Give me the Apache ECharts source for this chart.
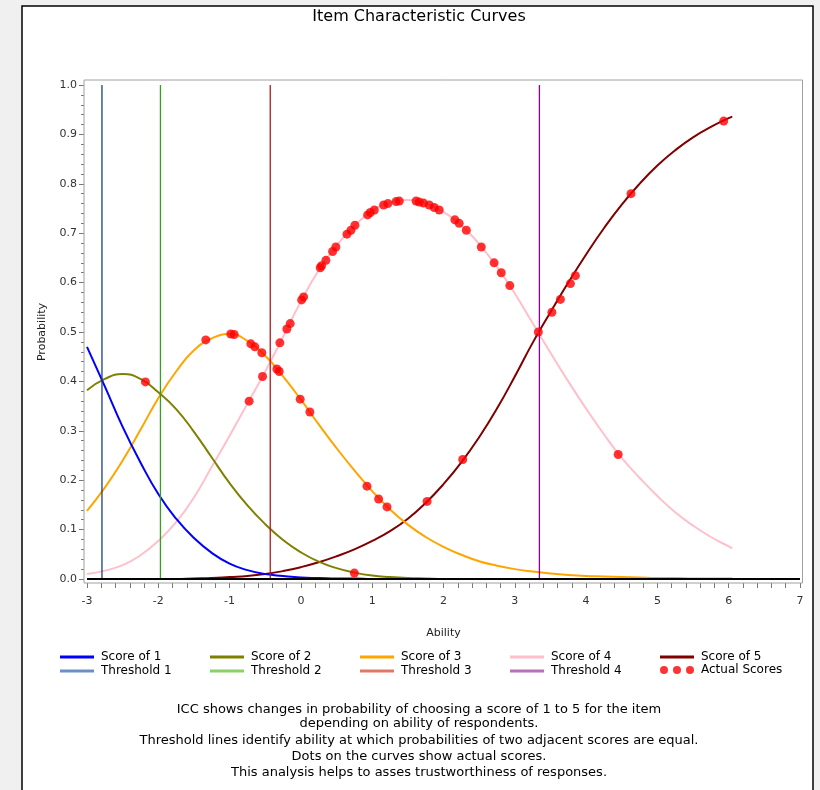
<!DOCTYPE html>
<html>
<head>
<meta charset="utf-8">
<title>Item Characteristic Curves</title>
<script src="https://cdn.jsdelivr.net/npm/echarts/dist/echarts.min.js"></script>
<style>
  html, body { margin: 0; padding: 0; background: #f0f0f0; }
  #chart { width: 820px; height: 790px; }
</style>
</head>
<body>
<div id="chart"></div>
<script>
// ability grid the curves were read at
const ability = [-3, -2.75, -2.5, -2.25, -2, -1.75, -1.5, -1.25, -1, -0.75, -0.5, -0.25,
  0, 0.25, 0.5, 0.75, 1, 1.25, 1.5, 1.75, 2, 2.25, 2.5, 2.75, 3, 3.25, 3.5, 3.75,
  4, 4.25, 4.5, 4.75, 5, 5.25, 5.5, 5.75, 6, 6.05];

const score1 = [0.47, 0.39, 0.308, 0.236, 0.172, 0.122, 0.083, 0.053, 0.031, 0.018, 0.010, 0.006,
  0.003, 0.002, 0.001, 0.001, 0, 0, 0, 0, 0, 0, 0, 0, 0, 0, 0, 0,
  0, 0, 0, 0, 0, 0, 0, 0, 0, 0];
const score2 = [0.382, 0.405, 0.415, 0.405, 0.378, 0.344, 0.298, 0.246, 0.194, 0.149, 0.111, 0.079,
  0.054, 0.035, 0.022, 0.013, 0.007, 0.004, 0.002, 0.001, 0, 0, 0, 0, 0, 0, 0, 0,
  0, 0, 0, 0, 0, 0, 0, 0, 0, 0];
const score3 = [0.138, 0.185, 0.24, 0.302, 0.366, 0.42, 0.463, 0.487, 0.496, 0.482, 0.452, 0.41,
  0.363, 0.313, 0.265, 0.22, 0.178, 0.141, 0.11, 0.085, 0.065, 0.049, 0.036, 0.027, 0.02, 0.015, 0.011, 0.008,
  0.006, 0.005, 0.004, 0.003, 0.002, 0.002, 0.001, 0.001, 0.001, 0.001];
const score4 = [0.01, 0.017, 0.028, 0.048, 0.077, 0.115, 0.165, 0.227, 0.29, 0.355, 0.42, 0.49,
  0.562, 0.625, 0.675, 0.715, 0.745, 0.762, 0.767, 0.76, 0.743, 0.716, 0.678, 0.632, 0.578, 0.518, 0.458, 0.40,
  0.345, 0.293, 0.245, 0.205, 0.168, 0.135, 0.108, 0.085, 0.066, 0.062];
const score5 = [0, 0, 0, 0, 0, 0, 0.001, 0.002, 0.004, 0.006, 0.010, 0.016,
  0.024, 0.034, 0.046, 0.06, 0.077, 0.097, 0.122, 0.154, 0.192, 0.236, 0.287, 0.345, 0.41, 0.478, 0.54, 0.60,
  0.657, 0.71, 0.758, 0.80, 0.837, 0.868, 0.894, 0.915, 0.933, 0.936];

// thresholds (ability where adjacent scores are equally likely)
const thresholds = [-2.79, -1.97, -0.43, 3.345];

// actual scores of respondents, placed on the curves
const dotAbility = [-2.18, 0.75,
  -1.334, -0.983, -0.936, -0.702, -0.646, -0.548, -0.337, -0.304, -0.01, 0.126, 0.927, 1.09, 1.208,
  -0.726, -0.538, -0.295, -0.197, -0.15, 0.01, 0.038, 0.271, 0.29, 0.351, 0.445, 0.49, 0.646, 0.702,
  0.758, 0.936, 0.974, 1.03, 1.16, 1.22, 1.334, 1.38, 1.615, 1.66, 1.72, 1.80, 1.87, 1.94, 2.16, 2.22,
  2.32, 2.53, 2.71, 2.81, 2.93, 4.45,
  1.77, 2.27, 3.33, 3.52, 3.64, 3.78, 3.85, 4.63, 5.93];
const dotProb = [0.399, 0.012,
  0.484, 0.496, 0.495, 0.476, 0.47, 0.458, 0.425, 0.42, 0.364, 0.338, 0.188, 0.162, 0.146,
  0.36, 0.41, 0.478, 0.506, 0.517, 0.565, 0.571, 0.63, 0.634, 0.645, 0.663, 0.672, 0.698, 0.706,
  0.716, 0.737, 0.742, 0.747, 0.757, 0.76, 0.764, 0.765, 0.765, 0.763, 0.761, 0.757, 0.752, 0.747, 0.727, 0.72,
  0.706, 0.672, 0.64, 0.62, 0.594, 0.252,
  0.157, 0.242, 0.50, 0.54, 0.566, 0.598, 0.614, 0.78, 0.927];

const scoreNames = ['Score of 1', 'Score of 2', 'Score of 3', 'Score of 4', 'Score of 5'];
const thresholdNames = ['Threshold 1', 'Threshold 2', 'Threshold 3', 'Threshold 4'];

const captionLines = [
  'ICC shows changes in probability of choosing a score of 1 to 5 for the item',
  'depending on ability of respondents.',
  'Threshold lines identify ability at which probabilities of two adjacent scores are equal.',
  'Dots on the curves show actual scores.',
  'This analysis helps to asses trustworthiness of responses.'
];

const FONT = 'DejaVu Sans';
const scoreColors = ['#0000ff', '#808000', '#ffa500', '#ffc0cb', '#800000'];
const thresholdColors = ['#1a3f80', '#33a020', '#b01c1c', '#8e008e'];
const thresholdLegendColors = ['#6d8fc4', '#8dd06a', '#e0786a', '#b873b8'];
const dotIcon = 'path://M4,0A4,4 0 1 1 4,8A4,4 0 1 1 4,0ZM17,0A4,4 0 1 1 17,8A4,4 0 1 1 17,0ZM30,0A4,4 0 1 1 30,8A4,4 0 1 1 30,0Z';

const scores = [score1, score2, score3, score4, score5];

const series = [];
scores.forEach((vals, i) => {
  series.push({
    name: scoreNames[i],
    type: 'line',
    smooth: 0.5,
    showSymbol: false,
    silent: true,
    z: 2 + (4 - i) * 0.01,
    color: scoreColors[i],
    lineStyle: { width: 2, color: scoreColors[i] },
    data: ability.map((a, k) => [a, vals[k]])
  });
});
thresholds.forEach((t, i) => {
  series.push({
    name: thresholdNames[i],
    type: 'line',
    showSymbol: false,
    silent: true,
    z: 3,
    color: thresholdColors[i],
    lineStyle: { width: 1.3, color: thresholdColors[i] },
    data: [[t, 0], [t, 1]]
  });
});
// black reference line at probability 0
series.push({
  name: 'base',
  type: 'line',
  data: [],
  silent: true,
  markLine: {
    silent: true,
    symbol: 'none',
    label: { show: false },
    lineStyle: { color: '#000', width: 2, type: 'solid' },
    data: [{ yAxis: 0 }]
  },
  z: 4
});
series.push({
  name: 'Actual Scores',
  type: 'scatter',
  symbolSize: 9,
  color: '#ff0000',
  itemStyle: { color: '#ff0000' },
  z: 5,
  data: dotAbility.map((a, k) => [a, dotProb[k]])
});

// legend: five columns, two rows
const colLeft = [60, 210, 360, 510, 660];
const legendText = { fontFamily: FONT, fontSize: 12, color: '#000', padding: [0, 0, 0, 2] };
const legends = [];
for (let i = 0; i < 5; i++) {
  legends.push({
    left: colLeft[i], top: 651, padding: 0, itemWidth: 34, itemHeight: 3, itemGap: 0,
    selectedMode: false, textStyle: legendText,
    data: [{ name: scoreNames[i], icon: 'rect' }]
  });
  if (i < 4) {
    legends.push({
      left: colLeft[i], top: 665, padding: 0, itemWidth: 34, itemHeight: 3, itemGap: 0,
      selectedMode: false, textStyle: legendText,
      data: [{ name: thresholdNames[i], icon: 'rect', itemStyle: { color: thresholdLegendColors[i] } }]
    });
  } else {
    legends.push({
      left: colLeft[i], top: 664, padding: 0, itemWidth: 34, itemHeight: 8, itemGap: 0,
      selectedMode: false, textStyle: legendText,
      data: [{ name: 'Actual Scores', icon: dotIcon }]
    });
  }
}

const graphics = [
  { type: 'rect', z: -10, shape: { x: 22, y: 6, width: 791, height: 800 },
    style: { fill: '#fff', stroke: '#000', lineWidth: 1.5 } },
  { type: 'rect', z: 1, shape: { x: 84, y: 80, width: 718.5, height: 503 },
    style: { fill: 'none', stroke: '#a0a0a0', lineWidth: 1 } },
  { type: 'text', x: 419, y: 9, style: { text: 'Item Characteristic Curves', fontFamily: FONT,
    fontSize: 16, fill: '#000', textAlign: 'center' } }
];
const captionY = [703, 717, 734, 750, 766];
captionLines.forEach((line, i) => {
  graphics.push({ type: 'text', x: 419, y: captionY[i],
    style: { text: line, fontFamily: FONT, fontSize: 13, fill: '#000', textAlign: 'center' } });
});

const chart = echarts.init(document.getElementById('chart'), null, { renderer: 'canvas' });
chart.setOption({
  backgroundColor: '#f0f0f0',
  animation: false,
  grid: { left: 87, right: 20, top: 85, bottom: 211 },
  xAxis: {
    type: 'value', min: -3, max: 7, interval: 1, offset: 4,
    name: 'Ability', nameLocation: 'middle', nameGap: 45,
    nameTextStyle: { fontFamily: FONT, fontSize: 11, color: '#222' },
    axisLine: { show: false, onZero: false },
    axisTick: { show: true, length: 5, lineStyle: { color: '#777' } },
    minorTick: { show: true, splitNumber: 5, length: 5, lineStyle: { color: '#777' } },
    axisLabel: { margin: 13, fontFamily: FONT, fontSize: 11, color: '#333' },
    splitLine: { show: false }
  },
  yAxis: {
    type: 'value', min: 0, max: 1, interval: 0.1, offset: 3,
    name: 'Probability', nameLocation: 'middle', nameGap: 36,
    nameTextStyle: { fontFamily: FONT, fontSize: 11, color: '#222' },
    axisLine: { show: false, onZero: false },
    axisTick: { show: true, length: 5, lineStyle: { color: '#777' } },
    minorTick: { show: true, splitNumber: 5, length: 3, lineStyle: { color: '#777' } },
    axisLabel: { margin: 7, fontFamily: FONT, fontSize: 11, color: '#333',
      formatter: v => v.toFixed(1) },
    splitLine: { show: false }
  },
  legend: legends,
  graphic: graphics,
  series: series
});
</script>
</body>
</html>
